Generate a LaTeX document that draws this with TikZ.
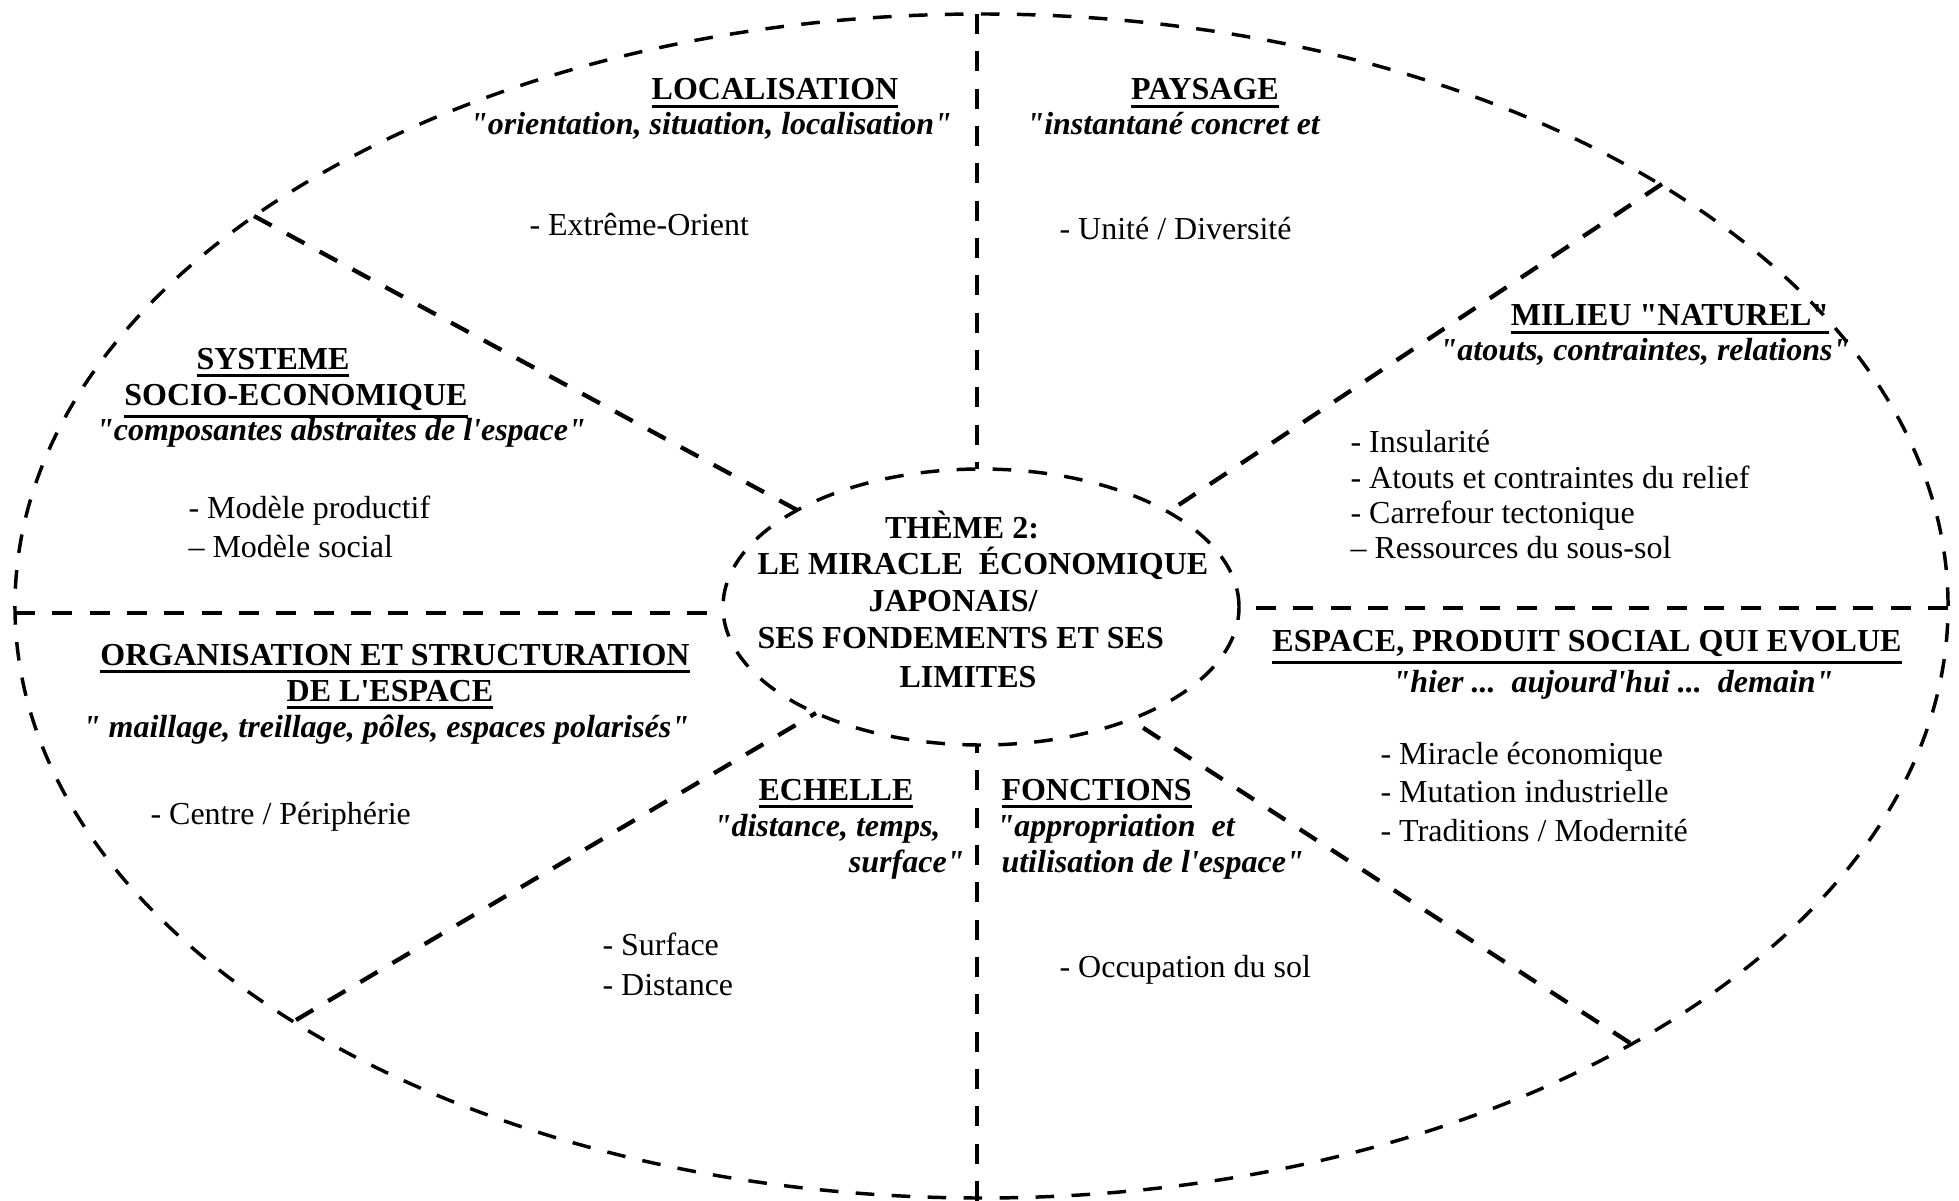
\documentclass[tikz,border=0pt]{standalone}
\usepackage{fontspec}
\setmainfont{Liberation Serif}[Ligatures=TeXOff]
\usetikzlibrary{shapes.geometric}
\newcommand\basesize{\fontsize{12}{14}\selectfont}
% heading with a heavy rule under it
\newcommand\ulbox[1]{\vtop{\hbox{#1}\kern1.7pt\hrule height 1.3pt}}
\tikzset{
  txt/.style={inner sep=0pt, font=\basesize},
  head/.style={txt, font=\basesize\bfseries, anchor=base},
  quote/.style={txt, font=\basesize\bfseries\itshape, anchor=base},
  item/.style={txt, anchor=base west},
  divider/.style={line width=1.6pt, dash pattern=on 7.5pt off 6.5pt},
  ring/.style={draw, ellipse, inner sep=0pt, line width=1.3pt, dash pattern=on 7pt off 6.5pt},
}
\begin{document}
\begin{tikzpicture}[x=0.375pt, y=-0.375pt]
\useasboundingbox (0,0) rectangle (1959,1201);

% outer ring and central theme ellipse
\node[ring, minimum width=724.9pt, minimum height=444pt] (rim) at (981.5,606) {};
\node[ring, minimum width=193.5pt, minimum height=103.5pt] (core) at (981,607) {};

% end points of the dividers
\coordinate (vtA) at (977,14);    \coordinate (vtB) at (977,469);
\coordinate (vbA) at (977,745);   \coordinate (vbB) at (977,1201);
\coordinate (hlA) at (15,613);    \coordinate (hlB) at (723,613);
\coordinate (hrA) at (1239,608);  \coordinate (hrB) at (1948,608);
\coordinate (ulA) at (254,216);   \coordinate (ulB) at (797,510);
\coordinate (urA) at (1662,184);  \coordinate (urB) at (1168,512);
\coordinate (llA) at (296,1020);  \coordinate (llB) at (816,713);
\coordinate (lrA) at (1630,1043); \coordinate (lrB) at (1131,720);

\draw[divider] (vtA) -- (vtB);
\draw[divider] (vbB) -- (vbA);
\draw[divider] (hlA) -- (hlB);
\draw[divider] (hrB) -- (hrA);
\draw[divider] (ulA) -- (ulB);
\draw[divider] (urA) -- (urB);
\draw[divider] (llA) -- (llB);
\draw[divider] (lrA) -- (lrB);

% centre
\node[head] (th1) at (962,538) {THÈME 2:};
\node[head, anchor=base west] (th2) at (757,574) {LE MIRACLE\ \ ÉCONOMIQUE};
\node[head] (th3) at (953,611) {JAPONAIS/};
\node[head, anchor=base west] (th4) at (757,648) {SES FONDEMENTS ET SES};
\node[head] (th5) at (968,687) {LIMITES};

% localisation
\node[head] (locH) at (775,100) {\ulbox{LOCALISATION}};
\node[quote] (locQ) at (711,135) {"orientation, situation, localisation"};
\node[item] (locI) at (529,236) {- Extrême-Orient};

% paysage
\node[head] (payH) at (1205,100) {\ulbox{PAYSAGE}};
\node[quote, anchor=base west] (payQ) at (1026,135) {"instantané concret et};
\node[item] (payI) at (1059,240) {- Unité / Diversité};

% systeme socio-economique
\node[head] (socH1) at (273,369) {\ulbox{SYSTEME}};
\node[head] (socH2) at (296,405) {\ulbox{SOCIO-ECONOMIQUE}};
\node[quote] (socQ) at (341,440) {"composantes abstraites de l'espace"};
\node[item] (socI1) at (188,518) {- Modèle productif};
\node[item] (socI2) at (188,557) {– Modèle social};

% milieu naturel
\node[head] (milH) at (1670,326) {\ulbox{MILIEU "NATUREL"}};
\node[quote] (milQ) at (1645,361) {"atouts, contraintes, relations"};
\node[item] (milI1) at (1350,452) {- Insularité};
\node[item] (milI2) at (1350,488) {- Atouts et contraintes du relief};
\node[item] (milI3) at (1350,523) {- Carrefour tectonique};
\node[item] (milI4) at (1350,558) {– Ressources du sous-sol};

% organisation et structuration
\node[head] (orgH1) at (395,665) {\ulbox{ORGANISATION ET STRUCTURATION}};
\node[head] (orgH2) at (390,701) {\ulbox{DE L'ESPACE}};
\node[quote] (orgQ) at (386,737) {" maillage, treillage, pôles, espaces polarisés"};
\node[item] (orgI) at (150,824) {- Centre / Périphérie};

% espace, produit social
\node[head] (espH) at (1587,651) {\ulbox{ESPACE, PRODUIT SOCIAL QUI EVOLUE}};
\node[quote] (espQ) at (1613,692) {"hier ...\ \ aujourd'hui ...\ \ demain"};
\node[item] (espI1) at (1380,764) {- Miracle économique};
\node[item] (espI2) at (1380,802) {- Mutation industrielle};
\node[item] (espI3) at (1380,841) {- Traditions / Modernité};

% echelle
\node[head] (echH) at (836,800) {\ulbox{ECHELLE}};
\node[quote, anchor=base east] (echQ1) at (941,836) {"distance, temps,};
\node[quote, anchor=base east] (echQ2) at (965,872) {surface"};
\node[item] (echI1) at (602,955) {- Surface};
\node[item] (echI2) at (602,995) {- Distance};

% fonctions
\node[head, anchor=base west] (fonH) at (1001,800) {\ulbox{FONCTIONS}};
\node[quote, anchor=base west] (fonQ1) at (996,836) {"appropriation\ \ et};
\node[quote, anchor=base west] (fonQ2) at (1001,872) {utilisation de l'espace"};
\node[item] (fonI) at (1059,977) {- Occupation du sol};
\end{tikzpicture}
\end{document}
